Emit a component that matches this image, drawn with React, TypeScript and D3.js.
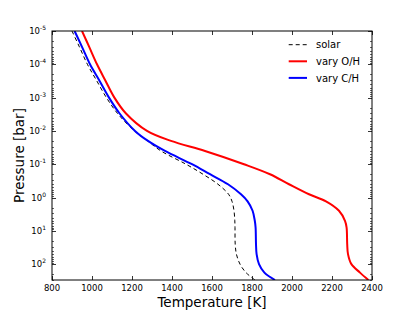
import React, { useEffect, useRef } from 'react';
import * as d3 from 'd3';

// pressure grid (bar), shared by all three profiles
const pressure = [1e-5, 3e-5, 1e-4, 3e-4, 1e-3, 3e-3, 1e-2, 2e-2, 4e-2, 0.1, 0.2, 0.4, 0.8, 1.3, 2.5, 5, 8, 25, 50, 100, 180, 300];

const solarT = [900, 937, 977, 1022, 1072, 1128, 1212, 1278, 1345, 1470, 1555, 1630, 1683, 1700, 1710, 1714, 1715, 1716, 1722, 1740, 1770, 1815];
const varyOT = [950, 986, 1025, 1066, 1112, 1170, 1275, 1395, 1565, 1760, 1890, 1985, 2085, 2170, 2235, 2265, 2273, 2276, 2280, 2297, 2340, 2382];
const varyCT = [913, 950, 990, 1036, 1085, 1138, 1215, 1280, 1365, 1500, 1590, 1680, 1745, 1778, 1803, 1814, 1818, 1820, 1823, 1835, 1862, 1915];

const xTicks = [800, 1000, 1200, 1400, 1600, 1800, 2000, 2200, 2400];
const yExponents = [-5, -4, -3, -2, -1, 0, 1, 2];

const series = [
  { name: 'solar', temps: solarT, color: '#000', width: 1, dash: '4,3' },
  { name: 'vary O/H', temps: varyOT, color: '#ff0000', width: 2, dash: null },
  { name: 'vary C/H', temps: varyCT, color: '#0000ff', width: 2, dash: null },
];

export default function App() {
  const svgRef = useRef<SVGSVGElement>(null);

  useEffect(() => {
    if (!svgRef.current) return;
    const svg = d3.select(svgRef.current);
    svg.selectAll('*').remove();

    const W = 415;
    const H = 312;
    const margin = { top: 31, right: 43, bottom: 32, left: 52 };
    const width = W - margin.left - margin.right;
    const height = H - margin.top - margin.bottom;
    const font = 'DejaVu Sans, sans-serif';

    const x = d3.scaleLinear().domain([800, 2400]).range([0, width]);
    const y = d3.scaleLog().domain([1e-5, 300]).range([0, height]);

    const g = svg.append('g').attr('transform', `translate(${margin.left},${margin.top})`);

    const clip = svg.append('defs').append('clipPath').attr('id', 'plot-clip');
    clip.append('rect').attr('width', width).attr('height', height);

    // profiles, smoothed in screen space
    const line = d3.line<[number, number]>()
      .x(d => x(d[0]))
      .y(d => y(d[1]))
      .curve(d3.curveCatmullRom.alpha(0.5));

    const plot = g.append('g').attr('clip-path', 'url(#plot-clip)');
    series.forEach(s => {
      const pts: [number, number][] = s.temps.map((t, i) => [t, pressure[i]]);
      plot.append('path')
        .attr('d', line(pts))
        .attr('fill', 'none')
        .attr('stroke', s.color)
        .attr('stroke-width', s.width)
        .attr('stroke-dasharray', s.dash)
        .attr('stroke-linejoin', 'round');
    });

    // frame
    g.append('rect')
      .attr('width', width)
      .attr('height', height)
      .attr('fill', 'none')
      .attr('stroke', '#000')
      .attr('stroke-width', 1);

    // x ticks (inward, top and bottom)
    xTicks.forEach(t => {
      const px = Math.round(x(t)) + 0.5;
      g.append('line').attr('x1', px).attr('x2', px).attr('y1', height).attr('y2', height - 4)
        .attr('stroke', '#000').attr('stroke-width', 0.8);
      g.append('line').attr('x1', px).attr('x2', px).attr('y1', 0).attr('y2', 4)
        .attr('stroke', '#000').attr('stroke-width', 0.8);
      g.append('text')
        .attr('x', x(t))
        .attr('y', height + 10.5)
        .attr('text-anchor', 'middle')
        .attr('font-family', font)
        .attr('font-size', '8.5px')
        .attr('fill', '#000')
        .text(t);
    });

    // y ticks, major + minor, inward on left and right
    const minor: number[] = [];
    for (let e = -5; e <= 2; e++) {
      for (let m = 2; m <= 9; m++) {
        const v = m * Math.pow(10, e);
        if (v <= 300) minor.push(v);
      }
    }
    minor.forEach(v => {
      const py = Math.round(y(v)) + 0.5;
      g.append('line').attr('x1', 0).attr('x2', 2).attr('y1', py).attr('y2', py)
        .attr('stroke', '#000').attr('stroke-width', 0.6);
      g.append('line').attr('x1', width).attr('x2', width - 2).attr('y1', py).attr('y2', py)
        .attr('stroke', '#000').attr('stroke-width', 0.6);
    });
    yExponents.forEach(e => {
      const py = Math.round(y(Math.pow(10, e))) + 0.5;
      g.append('line').attr('x1', 0).attr('x2', 4).attr('y1', py).attr('y2', py)
        .attr('stroke', '#000').attr('stroke-width', 0.8);
      g.append('line').attr('x1', width).attr('x2', width - 4).attr('y1', py).attr('y2', py)
        .attr('stroke', '#000').attr('stroke-width', 0.8);
      const txt = g.append('text')
        .attr('x', -6)
        .attr('y', y(Math.pow(10, e)) + 3)
        .attr('text-anchor', 'end')
        .attr('font-family', font)
        .attr('font-size', '8.5px')
        .attr('fill', '#000');
      txt.append('tspan').text('10');
      txt.append('tspan')
        .attr('font-size', '6px')
        .attr('dy', -4)
        .text(e < 0 ? `-${-e}` : `${e}`);
    });

    // axis labels
    svg.append('text')
      .attr('x', margin.left + width / 2)
      .attr('y', 306.5)
      .attr('text-anchor', 'middle')
      .attr('font-family', font)
      .attr('font-size', '13.5px')
      .attr('fill', '#000')
      .text('Temperature [K]');

    svg.append('text')
      .attr('transform', `translate(24,${margin.top + height / 2}) rotate(-90)`)
      .attr('text-anchor', 'middle')
      .attr('font-family', font)
      .attr('font-size', '13.5px')
      .attr('fill', '#000')
      .text('Pressure [bar]');

    // legend (no frame)
    series.forEach((s, i) => {
      const cy = 44.7 + i * 16.6;
      svg.append('line')
        .attr('x1', 288.7).attr('x2', 307).attr('y1', cy).attr('y2', cy)
        .attr('stroke', s.color)
        .attr('stroke-width', s.width)
        .attr('stroke-dasharray', s.dash);
      svg.append('text')
        .attr('x', 316)
        .attr('y', cy + 3.6)
        .attr('font-family', font)
        .attr('font-size', '10px')
        .attr('fill', '#000')
        .text(s.name);
    });
  }, []);

  return (
    <svg
      ref={svgRef}
      width={415}
      height={312}
      style={{ position: 'absolute', left: 0, top: 0, background: '#fff' }}
    />
  );
}
